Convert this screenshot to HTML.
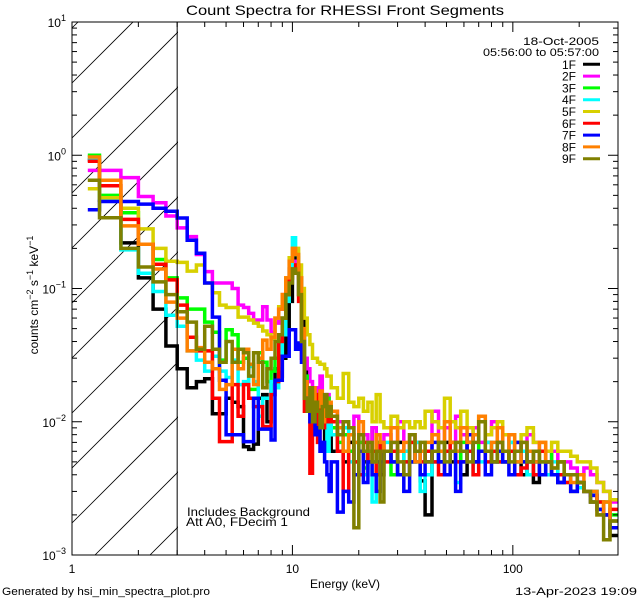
<!DOCTYPE html>
<html><head><meta charset="utf-8"><style>
html,body{margin:0;padding:0;background:#fff;width:640px;height:600px;overflow:hidden;}
svg{display:block;font-family:"Liberation Sans","DejaVu Sans",sans-serif;}
</style></head><body>
<svg id="chart" width="640" height="600" viewBox="0 0 640 600" xmlns="http://www.w3.org/2000/svg">
<rect x="0" y="0" width="640" height="600" fill="#fff"/>
<defs><clipPath id="plotclip"><rect x="72" y="22" width="546" height="533"/></clipPath>
<clipPath id="hatchclip"><rect x="72" y="22" width="106" height="533"/></clipPath></defs>
<text x="345" y="15" font-size="14" text-anchor="middle" textLength="318" lengthAdjust="spacingAndGlyphs">Count Spectra for RHESSI Front Segments</text>
<g id="hatch" clip-path="url(#hatchclip)"></g>
<g id="series" clip-path="url(#plotclip)"></g>
<g id="axes"></g>
<text x="187" y="516" font-size="12" textLength="123" lengthAdjust="spacingAndGlyphs">Includes Background</text>
<text x="186" y="526" font-size="12" textLength="102" lengthAdjust="spacingAndGlyphs">Att A0, FDecim 1</text>
<text x="345" y="588" font-size="12" text-anchor="middle">Energy (keV)</text>
<text transform="translate(38,295) rotate(-90)" font-size="12" text-anchor="middle">counts cm<tspan dy="-5" font-size="9">−2</tspan><tspan dy="5"> s</tspan><tspan dy="-5" font-size="9">−1</tspan><tspan dy="5"> keV</tspan><tspan dy="-5" font-size="9">−1</tspan></text>
<text x="2" y="595" font-size="11" textLength="208" lengthAdjust="spacingAndGlyphs">Generated by hsi_min_spectra_plot.pro</text>
<text x="637" y="595" font-size="11" text-anchor="end" textLength="122" lengthAdjust="spacingAndGlyphs">13-Apr-2023 19:09</text>
<text x="599" y="45" font-size="11" text-anchor="end" textLength="76" lengthAdjust="spacingAndGlyphs">18-Oct-2005</text>
<text x="599" y="56" font-size="11" text-anchor="end" textLength="116" lengthAdjust="spacingAndGlyphs">05:56:00 to 05:57:00</text>
<g id="legend"></g>
</svg>
<script>
// Energy bin edges (keV)
const edgesLow = [1.18,1.333,1.667,2,2.333,2.667,3,3.333,3.667,4,4.333,4.667,5,5.333,5.667,6,6.333,6.667,7,7.333,7.667,8,8.333,8.667,9,9.333,9.667,10,10.333,10.667,11,11.333,11.667,12,12.333,12.667,13,13.333,13.667,14,14.333,14.667,15];
const edgesHigh = [16,17,18,19,20,21,22,23,24,25,26,28,30,32,34,36,38,40,43,46,49,52,55,58,62,66,70,75,80,85,90,96,102,109,116,124,132,141,150,160,171,183,196,210,225,241,258,276,300];
// Series labels and colours
const segNames = ["1F","2F","3F","4F","5F","6F","7F","8F","9F"];
const segColors = ["#000000","#ff00ff","#00ff00","#00ffff","#d8d000","#ff0000","#0000ff","#ff8000","#808000"];
// Count values in units of 1e-3 counts cm^-2 s^-1 keV^-1
const UNIT = 1e-3;
const s1Low = [920,460,220,120,70,37,25,18,20,21,11.5,11.5,15,14,13,6.5,6.2,6.8,15,16,10,20,25,22,30,45,80,130,170,120,60,25,15,12,10,8,14,9,12,6,10,11];
const s1High = [6,9,5,7,4,8,5,6,9,5,4,6,5,7,4,5,6,3.6,2,6,5,7,5,6,4,7,5,6,6,5,7,5,6,5,4,5,3.5,4,5,4,3.5,4,3,3.5,3,2.5,2.2,2,1.4];
const s2Low = [770,770,680,490,440,350,285,245,180,134,110,110,110,100,75,72,65,58,58,73,58,47,55,70,90,110,140,160,150,90,45,30,25,20,16,18,14,22,15,13,16,12];
const s2High = [12,10,9,8,11,7,8,6,9,7,6,8,7,10,6,8,7,6,5,12,7,9,6,11,8,6,9,7,8,10,7,8,6,7,6,8,7,6,5,6,5,5,4.5,4,4.5,4,3.5,3,2.5];
const s3Low = [1000,500,370,215,165,120,85,70,70,56,47,29,49,45,28,30,17.5,17.5,33,28,20,24,30,40,60,90,120,150,140,90,40,22,18,15,13,16,11,14,10,12,15,10];
const s3High = [9,7,8,6,5,7,4.5,6,5,7,5,6,4,6,5,7,5,6,6,5,7,6,6,5,7,6,8,6,7,6,6,5,7,6,5,6,5,5,6,4,5,4,4,3.5,3,3,2.5,2.5,2];
const s4Low = [950,470,195,130,95,63,52,34,29,24,31,24,21.5,29,19,20,26,20,11,15,15,20,18,25,45,80,140,240,180,100,45,20,15,12,8,14,11,16,9,13,6,12];
const s4High = [8,6,9,5,7,6,4,5,2.5,6,5,7,5,4,6,5,7,3,4,5,6,5,7,3.5,5,6,4,5,7,6,5,6,7,5,6,4,5,5,4,5,4,3.5,4,3.2,3,3,2.2,2,1.8];
const s5Low = [560,480,400,280,200,160,157,135,150,110,93,75,72,72,61,61,58,55,52,48,45,42,60,73,90,120,170,200,200,150,100,60,45,38,30,30,28,27,27,25,22,22];
const s5High = [18,15,23,14,13,15,12,14,10,16,10,9,11,9,10,9,10,9,12,10,9,15,10,9,12,9,8,11,8,9,10,8,8,7,8,9,7,7,6,7,6,6,5.5,5,5,4.5,3.5,3,2.6];
const s6Low = [900,590,330,215,152,116,75,43,34,34,15,7.1,7.1,19,11,19,15,13,13,9.2,9.2,16,20,40,60,90,120,140,150,80,30,12,15,4.1,11,16,7,13,9,14,10,12];
const s6High = [10,6,3,8,5,4,7,5,6,4,7,5,6,4,5,7,6,5,6,5,4,6,7,5,5,6,4,6,5,6,5,5,6,4,4.5,5,4,6,5,4,4,3.5,4,3.5,3,2.8,2.5,2,2.2];
const s7Low = [390,450,450,430,400,380,338,230,184,110,61,20.5,8,8,8,7.1,7.1,15,8.8,8.8,8.8,7.3,20.5,20.5,31,31,49,49,35,39,28,20,14,10,12,8,9,6,7,5,4,3];
const s7High = [5,2.1,3,2.5,4,6,3.5,5,4,3,5,6,5,4,3,5,6,4,5,7,5,4,6,3,5,8,5,6,4,5,6,5,4,7,5,6,5,4,5,4,3.5,4,3,3.5,3,2.8,2.2,2,1.6];
const s8Low = [970,650,295,215,140,79,60,34,36,28,25,17.5,19,35,25,35,27,19,30,41,35,43,60,70,90,120,160,200,180,120,50,20,16,14,18,12,13,17,10,15,11,14];
const s8High = [12,9,6,8,7,10,6,7,5,8,7,6,9,6,7,8,5,6,7,8,6,10,7,6,9,7,8,11,6,7,9,6,8,5,7,6,5,7,5,4.5,5,4,3.5,4,3,3,2,2.5,1.8];
const s9Low = [650,340,200,145,112,90,67,56,35,52,35,28,40,28,35,33,22,33,28,18,25,30,40,45,60,90,110,140,130,90,40,15,12,18,10,14,12,9,13,16,11,13];
const s9High = [11,8,10,9,1.6,8,6,7,5,6,2.5,6,7,5,4,8,6,7,5,6,7,5,6,7,6,5,7,10,6,5,7,6,5,6,7,5,6,5,5,4.5,5,4,4,3.5,3,2.5,2,1.3,1.8];
// Axis tick values
const xMajorTicks = [1,10,100];
const xMajorLabels = ["1","10","100"];
const yMajorExps = [1,0,-1,-2,-3];

const NS = "http://www.w3.org/2000/svg";
const X0 = 72, X1 = 618, Y0 = 22, Y1 = 555;
const xMin = 1, xMax = 300, yMinExp = -3, yMaxExp = 1;
function xScale(e){ return X0 + (Math.log10(e) - Math.log10(xMin)) / (Math.log10(xMax) - Math.log10(xMin)) * (X1 - X0); }
function yScale(v){ return Y1 - (Math.log10(v) - yMinExp) / (yMaxExp - yMinExp) * (Y1 - Y0); }
function mk(tag, attrs, parent){ const el = document.createElementNS(NS, tag); for (const k in attrs) el.setAttribute(k, attrs[k]); parent.appendChild(el); return el; }

const edges = edgesLow.concat(edgesHigh);
const seriesData = [s1Low.concat(s1High), s2Low.concat(s2High), s3Low.concat(s3High), s4Low.concat(s4High), s5Low.concat(s5High), s6Low.concat(s6High), s7Low.concat(s7High), s8Low.concat(s8High), s9Low.concat(s9High)];

// hatch region
const hatch = document.getElementById('hatch');
for (let k = -12; k < 14; k++) {
  const yStart = 83 + k * 55;
  const ln = mk('line', {x1: X0, y1: yStart, x2: X0 + 600, y2: yStart - 600, stroke: '#000', 'stroke-width': 0.8}, hatch);
  
  
}

// series
const sg = document.getElementById('series');
seriesData.forEach((vals, i) => {
  let d = '';
  for (let b = 0; b < vals.length; b++) {
    const xa = xScale(edges[b]), xb = xScale(edges[b + 1]), y = yScale(vals[b] * UNIT);
    d += (b === 0 ? 'M' : 'L') + xa.toFixed(1) + ' ' + y.toFixed(1) + 'L' + xb.toFixed(1) + ' ' + y.toFixed(1);
  }
  const p = mk('path', {d: d, fill: 'none', stroke: segColors[i], 'stroke-width': 3.5, 'stroke-linejoin': 'miter'}, sg);
  
  
});

// axes
const ax = document.getElementById('axes');
const frame = mk('rect', {x: X0, y: Y0, width: X1 - X0, height: Y1 - Y0, fill: 'none', stroke: '#000', 'stroke-width': 1}, ax);


const cut = mk('line', {x1: xScale(3), y1: Y0, x2: xScale(3), y2: Y1, stroke: '#000', 'stroke-width': 1}, ax);


for (let dec = 1; dec <= 100; dec *= 10) {
  for (let m = 1; m <= 9; m++) {
    const e = dec * m; if (e > xMax) break;
    const x = xScale(e), len = m === 1 ? 10 : 5;
    const t1 = mk('line', {x1: x, y1: Y1, x2: x, y2: Y1 - len, stroke: '#000'}, ax);
    
    
    const t2 = mk('line', {x1: x, y1: Y0, x2: x, y2: Y0 + len, stroke: '#000'}, ax);
    
    
  }
}
xMajorTicks.forEach((e, i) => {
  const t = mk('text', {x: xScale(e), y: 573, 'font-size': 12, 'text-anchor': 'middle'}, ax);
  t.textContent = xMajorLabels[i];
  
  
});
yMajorExps.forEach(ex => {
  for (let m = 1; m <= 9; m++) {
    if (ex === yMaxExp && m > 1) break;
    const y = yScale(m * Math.pow(10, ex)), len = m === 1 ? 10 : 5;
    const t1 = mk('line', {x1: X0, y1: y, x2: X0 + len, y2: y, stroke: '#000'}, ax);
    
    
    const t2 = mk('line', {x1: X1, y1: y, x2: X1 - len, y2: y, stroke: '#000'}, ax);
    
    
  }
  const y = yScale(Math.pow(10, ex));
  const lab = mk('text', {x: 66, y: y + 5, 'font-size': 12, 'text-anchor': 'end'}, ax);
  
  
  const base = document.createElementNS(NS, 'tspan'); base.textContent = '10'; lab.appendChild(base);
  const sup = document.createElementNS(NS, 'tspan'); sup.setAttribute('dy', '-6'); sup.setAttribute('font-size', '9');
  sup.textContent = ex < 0 ? '−' + (-ex) : String(ex); lab.appendChild(sup);
});

// legend
const lg = document.getElementById('legend');
segNames.forEach((n, i) => {
  const y = 64.3 + i * 11.8;
  const t = mk('text', {x: 576, y: y + 4.5, 'font-size': 12, 'text-anchor': 'end'}, lg);
  t.textContent = n;
  
  
  const l = mk('line', {x1: 583, y1: y, x2: 600, y2: y, stroke: segColors[i], 'stroke-width': 3}, lg);
  
  
});
</script>
</body></html>
